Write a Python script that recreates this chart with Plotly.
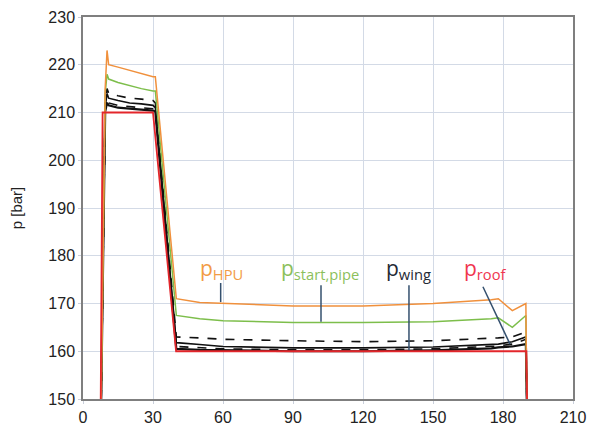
import plotly.graph_objects as go

# time axis [s]
t = [7.8, 9.5, 10.3, 11, 15, 20, 25, 30, 31, 40, 50, 60, 90, 120, 150, 175, 178, 184, 189.8, 190.2]

p_hpu = [150, 215, 223, 220, 219.5, 218.8, 218.2, 217.5, 217.5, 171, 170.2, 170, 169.5, 169.5, 170, 170.8, 171, 168.5, 170, 150]
p_start_pipe = [150, 214, 218, 217, 216.3, 215.6, 215, 214.5, 214.5, 167.5, 166.8, 166.4, 166, 166, 166.2, 166.8, 167, 165, 167.5, 150]
p_black_d1 = [150, 212, 215, 214, 213.5, 213, 212.8, 212.5, 212, 163, 162.8, 162.5, 162.2, 162, 162.2, 162.6, 162.8, 163, 164, 150]
p_black_s1 = [150, 211, 214, 213, 212.5, 212, 211.8, 211.5, 211, 161.8, 161.4, 161, 160.7, 160.7, 160.9, 161.3, 161.5, 162, 163, 150]
p_black_d2 = [150, 210.5, 213, 212, 211.5, 211.2, 211, 210.8, 210.5, 161, 160.7, 160.5, 160.3, 160.3, 160.5, 160.9, 161.1, 161.5, 162.5, 150]
p_wing = [150, 210.2, 212, 211.5, 211, 210.8, 210.6, 210.4, 210.2, 160.5, 160.3, 160.2, 160, 160, 160.2, 160.6, 160.8, 161, 161.5, 150]

t_roof = [7.6, 8.4, 30, 39.9, 190, 190.3]
p_roof = [150, 210, 210, 160, 160, 150]

x_ticks = [0, 30, 60, 90, 120, 150, 180, 210]
y_ticks = [150, 160, 170, 180, 190, 200, 210, 220, 230]

# labels: (text, x, y, color)
labels = [
    ("p<sub>HPU</sub>", 59.5, 177.3, "#F29B45"),
    ("p<sub>start,pipe</sub>", 101.6, 177.3, "#8CBF5B"),
    ("p<sub>wing</sub>", 139.7, 177.3, "#1F2A36"),
    ("p<sub>roof</sub>", 172.7, 177.3, "#F0364F"),
]
# leader lines: x0, y0, x1, y1
leaders = [
    (59, 174.3, 59, 170.3),
    (102, 173.8, 102, 166.2),
    (139.7, 173.8, 139.7, 160.2),
    (171.4, 173.5, 183, 161.5),
]

fig = go.Figure()
black = "#111111"
fig.add_trace(go.Scatter(x=t, y=p_black_d1, mode="lines", line=dict(color=black, width=1.6, dash="dash")))
fig.add_trace(go.Scatter(x=t, y=p_black_s1, mode="lines", line=dict(color=black, width=1.6)))
fig.add_trace(go.Scatter(x=t, y=p_black_d2, mode="lines", line=dict(color=black, width=1.6, dash="dash")))
fig.add_trace(go.Scatter(x=t, y=p_wing, mode="lines", line=dict(color=black, width=2.2)))
fig.add_trace(go.Scatter(x=t, y=p_start_pipe, mode="lines", line=dict(color="#7DBE4B", width=1.5)))
fig.add_trace(go.Scatter(x=t, y=p_hpu, mode="lines", line=dict(color="#F0903C", width=1.5)))
fig.add_trace(go.Scatter(x=t_roof, y=p_roof, mode="lines", line=dict(color="#E3262B", width=1.8)))

for txt, x, y, c in labels:
    fig.add_annotation(x=x, y=y, text=txt, showarrow=False, xanchor="center", yanchor="middle",
                       font=dict(family="Open Sans", size=21, color=c))
for x0, y0, x1, y1 in leaders:
    fig.add_shape(type="line", x0=x0, y0=y0, x1=x1, y1=y1, xref="x", yref="y",
                  line=dict(color="#34506E", width=1.5))

axis_common = dict(showgrid=True, gridcolor="#D3DAE6", gridwidth=1,
                   showline=True, linecolor="#7F7F7F", linewidth=1.5, mirror=True,
                   ticks="outside", ticklen=3, tickcolor="#C8CEDA", zeroline=False,
                   automargin=False,
                   tickfont=dict(family="Liberation Sans", size=16, color="#222222"))
fig.update_xaxes(range=[0, 210], tickvals=x_ticks, **axis_common)
fig.update_yaxes(range=[150, 230], tickvals=y_ticks,
                 title=dict(text="p [bar]", font=dict(family="Liberation Sans", size=15, color="#222222"), standoff=22),
                 **axis_common)
fig.update_layout(width=599, height=425, margin=dict(l=83, r=26, t=17, b=26),
                  plot_bgcolor="white", paper_bgcolor="white", showlegend=False)
fig.write_html("out.html", config={"displayModeBar": False},
               post_script="document.body.style.margin='0';document.body.style.overflow='hidden';")
